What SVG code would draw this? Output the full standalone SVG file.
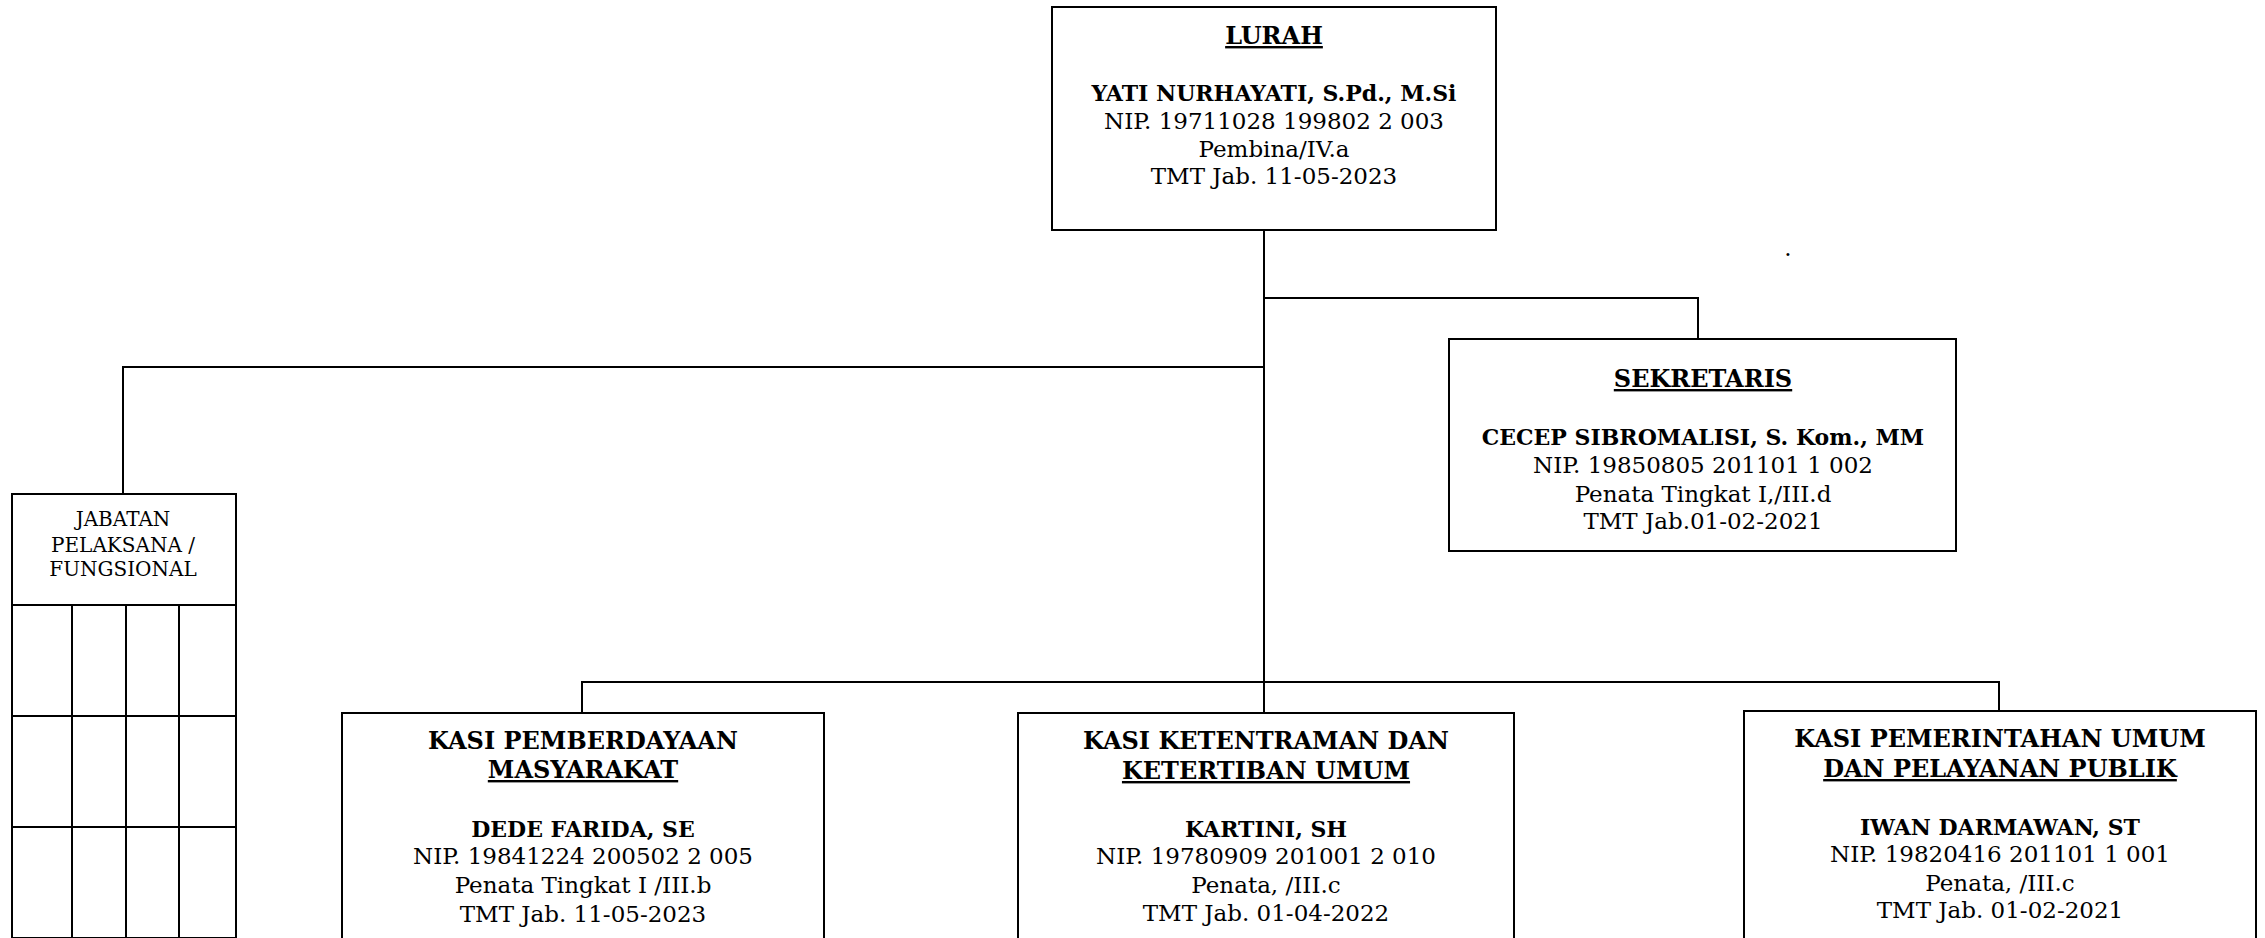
<svg xmlns="http://www.w3.org/2000/svg" width="2265" height="938" viewBox="0 0 2265 938">
<style>
.box{fill:#fff;stroke:#000;stroke-width:2}
.ln{fill:none;stroke:#000;stroke-width:2}
text{font-family:"DejaVu Serif","Liberation Serif",serif;fill:#000;text-anchor:middle}
.t{font-size:24px;font-weight:bold}
.u{text-decoration:underline}
.n{font-size:22px;font-weight:bold}
.r{font-size:23px}
.j{font-size:20px}
</style>
<rect width="2265" height="938" fill="#fff"/>
<g id="connectors">
<path class="ln" d="M1264,230 V682"/>
<path class="ln" d="M1264,298 H1698 V339"/>
<path class="ln" d="M1264,367 H123 V494"/>
<path class="ln" d="M582,713 V682 H1999 V711"/>
<path class="ln" d="M1264,682 V713"/>
</g>
<g id="lurah">
<rect class="box" x="1052" y="7" width="444" height="223"/>
<text class="t u" x="1274" y="44">LURAH</text>
<text class="n" x="1274" y="101">YATI NURHAYATI, S.Pd., M.Si</text>
<text class="r" x="1274" y="129">NIP. 19711028 199802 2 003</text>
<text class="r" x="1274" y="157">Pembina/IV.a</text>
<text class="r" x="1274" y="184">TMT Jab. 11-05-2023</text>
</g>
<g id="dot"><text class="r" x="1788" y="256">.</text></g>
<g id="sekretaris">
<rect class="box" x="1449" y="339" width="507" height="212"/>
<text class="t u" x="1703" y="387">SEKRETARIS</text>
<text class="n" x="1703" y="445">CECEP SIBROMALISI, S. Kom., MM</text>
<text class="r" x="1703" y="473">NIP. 19850805 201101 1 002</text>
<text class="r" x="1703" y="502">Penata Tingkat I,/III.d</text>
<text class="r" x="1703" y="529">TMT Jab.01-02-2021</text>
</g>
<g id="jabatan">
<rect class="box" x="12" y="494" width="224" height="444"/>
<path class="ln" d="M12,605 H236 M12,716 H236 M12,827 H236 M72,605 V938 M126,605 V938 M179,605 V938"/>
<text class="j" x="123" y="526">JABATAN</text>
<text class="j" x="123" y="552">PELAKSANA /</text>
<text class="j" x="123" y="576">FUNGSIONAL</text>
</g>
<g id="kasi-pemberdayaan">
<rect class="box" x="342" y="713" width="482" height="245"/>
<text class="t" x="583" y="749">KASI PEMBERDAYAAN</text>
<text class="t u" x="583" y="778">MASYARAKAT</text>
<text class="n" x="583" y="837">DEDE FARIDA, SE</text>
<text class="r" x="583" y="864">NIP. 19841224 200502 2 005</text>
<text class="r" x="583" y="893">Penata Tingkat I /III.b</text>
<text class="r" x="583" y="922">TMT Jab. 11-05-2023</text>
</g>
<g id="kasi-ketentraman">
<rect class="box" x="1018" y="713" width="496" height="245"/>
<text class="t" x="1266" y="749">KASI KETENTRAMAN DAN</text>
<text class="t u" x="1266" y="779">KETERTIBAN UMUM</text>
<text class="n" x="1266" y="837">KARTINI, SH</text>
<text class="r" x="1266" y="864">NIP. 19780909 201001 2 010</text>
<text class="r" x="1266" y="893">Penata, /III.c</text>
<text class="r" x="1266" y="921">TMT Jab. 01-04-2022</text>
</g>
<g id="kasi-pemerintahan">
<rect class="box" x="1744" y="711" width="512" height="247"/>
<text class="t" x="2000" y="747">KASI PEMERINTAHAN UMUM</text>
<text class="t u" x="2000" y="777">DAN PELAYANAN PUBLIK</text>
<text class="n" x="2000" y="835">IWAN DARMAWAN, ST</text>
<text class="r" x="2000" y="862">NIP. 19820416 201101 1 001</text>
<text class="r" x="2000" y="891">Penata, /III.c</text>
<text class="r" x="2000" y="918">TMT Jab. 01-02-2021</text>
</g>
</svg>
